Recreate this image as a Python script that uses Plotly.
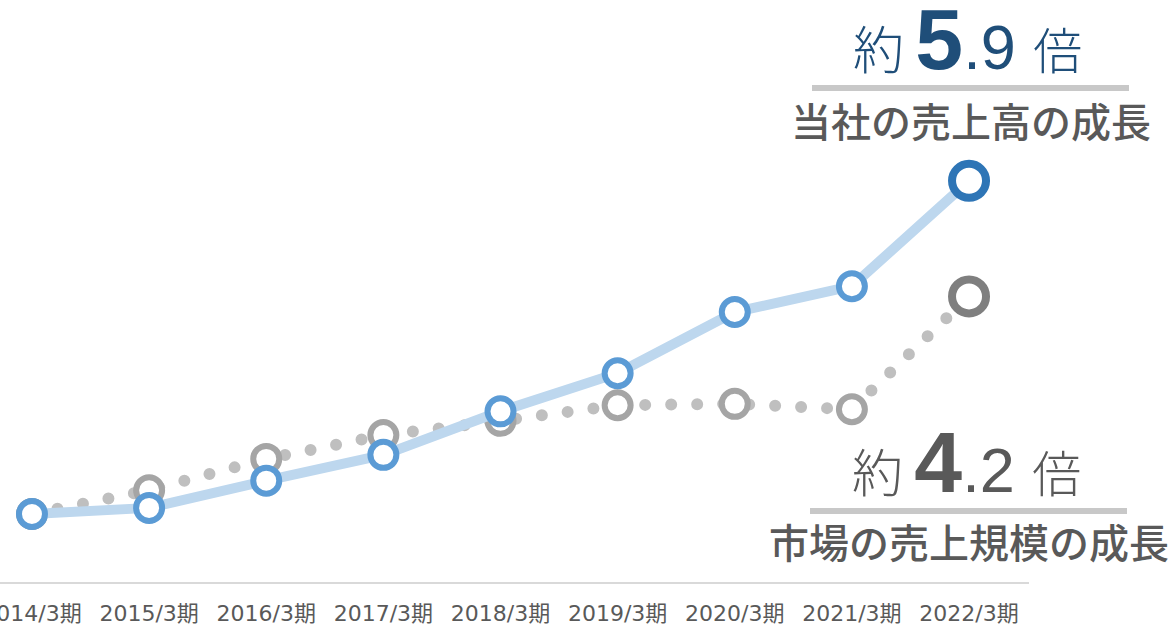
import plotly.graph_objects as go

periods = ["2014/3期", "2015/3期", "2016/3期", "2017/3期", "2018/3期",
           "2019/3期", "2020/3期", "2021/3期", "2022/3期"]
company_sales = [1.0, 1.09, 1.49, 1.87, 2.51, 3.07, 3.97, 4.35, 5.9]
market_size = [1.0, 1.35, 1.81, 2.16, 2.37, 2.60, 2.62, 2.54, 4.2]

company_label = "当社の売上高の成長"
market_label = "市場の売上規模の成長"

W, H = 1171, 629
PLOT_RIGHT = 1029   # px where the axis line ends
PLOT_BOTTOM = 582   # px from top where the axis sits


def py(p):
    # pixel row -> paper y
    return (PLOT_BOTTOM - p) / PLOT_BOTTOM


def px(p):
    # pixel column -> paper x
    return p / PLOT_RIGHT


def ratio_text(values):
    r = f"{values[-1] / values[0]:.1f}"
    whole, frac = r.split(".")
    return (
        f'<span style="font-size:51px;font-weight:300">約 </span>'
        f'<span style="font-family:Liberation Sans;font-size:86px;font-weight:bold">{whole}</span>'
        f'<span style="font-family:Liberation Sans;font-size:63px">.{frac} </span>'
        f'<span style="font-size:49px;font-weight:300">倍</span>'
    )


n = len(periods)
fig = go.Figure()

fig.add_trace(go.Scatter(
    x=periods, y=market_size, mode="lines+markers",
    line=dict(color="#BFBFBF", width=12, dash="0px,26px"),
    marker=dict(
        symbol="circle", color="white", opacity=1,
        size=[26] * (n - 1) + [34],
        line=dict(color=["#A5A5A5"] * (n - 1) + ["#7F7F7F"],
                  width=[6] * (n - 1) + [8])),
    hoverinfo="skip", showlegend=False))

fig.add_trace(go.Scatter(
    x=periods, y=company_sales, mode="lines+markers",
    line=dict(color="#BDD7EE", width=10),
    marker=dict(
        symbol="circle", color="white", opacity=1,
        size=[26] * (n - 1) + [34],
        line=dict(color=["#5B9BD5"] * (n - 1) + ["#2E75B6"],
                  width=[6] * (n - 1) + [8])),
    hoverinfo="skip", showlegend=False))

last = n - 1
font_cjk = "Noto Sans CJK JP"

annotations = [
    dict(x=last - 0.01, xref="x", y=py(39), yref="paper", yanchor="middle",
         text=ratio_text(company_sales), showarrow=False,
         font=dict(family=font_cjk, color="#1F4E79", size=50)),
    dict(x=last + 0.02, xref="x", y=py(120), yref="paper", yanchor="middle",
         text=company_label, showarrow=False,
         font=dict(family=font_cjk, color="#595959", size=40, weight=500)),
    dict(x=last - 0.02, xref="x", y=py(462), yref="paper", yanchor="middle",
         text=ratio_text(market_size), showarrow=False,
         font=dict(family=font_cjk, color="#595959", size=50)),
    dict(x=last, xref="x", y=py(541), yref="paper", yanchor="middle",
         text=market_label, showarrow=False,
         font=dict(family=font_cjk, color="#595959", size=40, weight=500)),
]

shapes = [
    dict(type="line", xref="paper", yref="paper", x0=px(812), x1=px(1129),
         y0=py(88), y1=py(88), line=dict(color="#C8C8C8", width=6)),
    dict(type="line", xref="paper", yref="paper", x0=px(810), x1=px(1127),
         y0=py(511), y1=py(511), line=dict(color="#C8C8C8", width=6)),
]

fig.update_layout(
    width=W, height=H,
    margin=dict(l=0, r=W - PLOT_RIGHT, t=0, b=H - PLOT_BOTTOM, autoexpand=False),
    plot_bgcolor="white", paper_bgcolor="white",
    annotations=annotations, shapes=shapes,
    xaxis=dict(
        type="category", range=[-0.273, 8.512], automargin=False,
        showline=True, linecolor="#D9D9D9", linewidth=2,
        showgrid=False, zeroline=False,
        ticks="outside", ticklen=11, tickcolor="rgba(0,0,0,0)",
        ticklabeloverflow="allow",
        tickfont=dict(family="DejaVu Sans, Noto Sans CJK JP", size=22, color="#595959")),
    yaxis=dict(range=[0, PLOT_BOTTOM / 68], visible=False, showgrid=False,
               automargin=False),
)

page_fix = ("document.body.style.margin='0';"
            "document.body.style.overflow='hidden';"
            "document.querySelectorAll('.scatterlayer .trace:first-child .js-line')"
            ".forEach(function(p){p.style.strokeLinecap='round';});")

fig.write_html("out.html", config={"displayModeBar": False}, post_script=page_fix)
